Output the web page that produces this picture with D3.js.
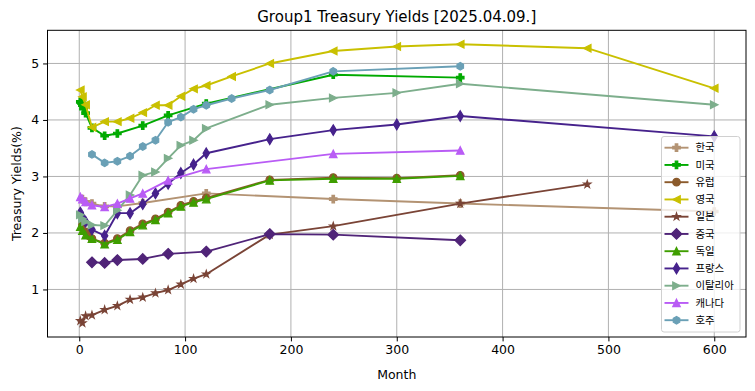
<!DOCTYPE html>
<html><head><meta charset="utf-8">
<script src="https://cdn.jsdelivr.net/npm/d3@7"></script>
<style>body{margin:0;background:#fff} svg{display:block}</style>
</head><body><svg id="c" width="755" height="391"></svg>
<script>
// ---- data ----
const seriesNames = ["한국","미국","유럽","영국","일본","중국","독일","프랑스","이탈리아","캐나다","호주"];
const koreaMonths = [3,6,12,24,36,60,120,240,360,600];
const koreaYields = [2.6,2.55,2.52,2.47,2.47,2.53,2.7,2.6,2.52,2.38];
const usMonths = [1,2,3,4,6,12,24,36,60,84,120,240,360];
const usYields = [4.32,4.3,4.26,4.2,4.12,3.86,3.72,3.76,3.9,4.08,4.29,4.8,4.75];
const euMonths = [3,6,9,12,24,36,48,60,72,84,96,108,120,180,240,300,360];
const euYields = [2.15,2.02,1.95,1.9,1.82,1.9,2.04,2.16,2.25,2.37,2.49,2.56,2.62,2.94,2.98,2.97,3.02];
const ukMonths = [1,3,6,12,24,36,48,60,72,84,96,108,120,144,180,240,300,360,480,600];
const ukYields = [4.53,4.41,4.27,3.87,3.97,3.97,4.03,4.13,4.26,4.26,4.42,4.55,4.61,4.77,5.0,5.22,5.3,5.34,5.27,4.56];
const jpMonths = [1,3,6,12,24,36,48,60,72,84,96,108,120,180,240,360,480];
const jpYields = [0.445,0.405,0.53,0.545,0.64,0.71,0.82,0.86,0.935,0.99,1.09,1.19,1.27,1.97,2.12,2.52,2.86];
const cnMonths = [12,24,36,60,84,120,180,240,360];
const cnYields = [1.48,1.47,1.52,1.54,1.63,1.67,1.98,1.97,1.87];
const deMonths = [1,3,6,12,24,36,48,60,72,84,96,108,120,180,240,300,360];
const deYields = [2.11,2.04,1.96,1.9,1.8,1.88,2.02,2.14,2.23,2.35,2.47,2.54,2.6,2.93,2.96,2.96,3.01];
const frMonths = [1,3,6,12,24,36,48,60,72,84,96,108,120,180,240,300,360,600];
const frYields = [2.36,2.28,2.2,2.06,1.95,2.35,2.35,2.51,2.7,2.87,3.06,3.21,3.41,3.66,3.82,3.92,4.07,3.71];
const itMonths = [1,3,6,12,24,36,48,60,72,84,96,108,120,180,240,300,360,600];
const itYields = [2.32,2.25,2.2,2.14,2.13,2.4,2.67,3.02,3.08,3.32,3.55,3.64,3.85,4.27,4.39,4.48,4.64,4.27];
const caMonths = [1,3,6,12,24,36,48,60,84,120,240,360];
const caYields = [2.64,2.6,2.55,2.49,2.46,2.52,2.61,2.7,2.93,3.13,3.4,3.46];
const auMonths = [12,24,36,48,60,72,84,96,108,120,144,180,240,360];
const auYields = [3.39,3.24,3.27,3.36,3.53,3.64,3.96,4.05,4.19,4.26,4.38,4.53,4.86,4.95];
const xTicks = [0,100,200,300,400,500,600];
const yTicks = [1,2,3,4,5];
const titleText = "Group1 Treasury Yields [2025.04.09.]";
const xLabel = "Month", yLabel = "Treasury Yields(%)";

// ---- styles ----
const colors = ["#b39373","#00aa00","#8b5a2b","#c9c000","#7a4436","#502478","#3f9e00","#46228c","#7dae8c","#b95cf5","#6aa0b6"];
const markers = ["P","P","o","<","*","D","^","d",">","^","h"];

const monthsList = [koreaMonths,usMonths,euMonths,ukMonths,jpMonths,cnMonths,deMonths,frMonths,itMonths,caMonths,auMonths];
const yieldsList = [koreaYields,usYields,euYields,ukYields,jpYields,cnYields,deYields,frYields,itYields,caYields,auYields];
const series = seriesNames.map((n,i)=>({name:n,color:colors[i],marker:markers[i],
  pts: monthsList[i].map((m,j)=>({m, v: yieldsList[i][j]}))}));

const svg = d3.select("#c");
const L=47.5, R=746, T=30.3, B=337;
const allM = monthsList.flat(), allV = yieldsList.flat();
const [m0,m1] = d3.extent(allM), [v0,v1] = d3.extent(allV);
const x = d3.scaleLinear().domain([m0-(m1-m0)*0.05 - 0, m1+(m1-m0)*0.05]).range([L,R]);
// x domain padded from 0..600
x.domain([0-(600-0)*0.05, 600+(600-0)*0.05]);
const y = d3.scaleLinear().domain([v0-(v1-v0)*0.05, v1+(v1-v0)*0.05]).range([B,T]);

const font = "DejaVu Sans, sans-serif";
// grid
const g = svg.append("g");
g.selectAll(".gx").data(xTicks).join("line").attr("x1",d=>x(d)).attr("x2",d=>x(d)).attr("y1",T).attr("y2",B)
  .attr("stroke","#b0b0b0").attr("stroke-width",1);
g.selectAll(".gy").data(yTicks).join("line").attr("y1",d=>y(d)).attr("y2",d=>y(d)).attr("x1",L).attr("x2",R)
  .attr("stroke","#b0b0b0").attr("stroke-width",1);

// axes
const xAxis = d3.axisBottom(x).tickValues(xTicks).tickSize(4.4).tickPadding(4);
const yAxis = d3.axisLeft(y).tickValues(yTicks).tickSize(4.4).tickPadding(4).tickFormat(d3.format("d"));
const gx = svg.append("g").attr("transform",`translate(0,${B})`).call(xAxis);
const gy = svg.append("g").attr("transform",`translate(${L},0)`).call(yAxis);
[gx,gy].forEach(a=>{a.select(".domain").remove();
  a.selectAll("text").attr("font-family",font).attr("font-size",12.5).attr("fill","#000");
  a.selectAll("line").attr("stroke","#000").attr("stroke-width",1);});

// marker paths
function markerPath(type, s){ // s = markersize px
  const h=s/2;
  switch(type){
    case "o": return d3.path().toString() || `M${h},0A${h},${h},0,1,1,${-h},0A${h},${h},0,1,1,${h},0Z`;
    case "P": { const a=s/6; return `M${-a},${-h}H${a}V${-a}H${h}V${a}H${a}V${h}H${-a}V${a}H${-h}V${-a}H${-a}Z`; }
    case "^": return `M0,${-h}L${h},${h}L${-h},${h}Z`;
    case "<": return `M${-h},0L${h},${-h}L${h},${h}Z`;
    case ">": return `M${h},0L${-h},${-h}L${-h},${h}Z`;
    case "D": { const d=s*0.7071; return `M0,${-d}L${d},0L0,${d}L${-d},0Z`; }
    case "d": { const d=s*0.7071; const w=d*0.6; return `M0,${-d}L${w},0L0,${d}L${-w},0Z`; }
    case "h": { let p=""; for(let k=0;k<6;k++){const a=Math.PI/2+k*Math.PI/3; p+=(k?"L":"M")+(h*Math.cos(a)).toFixed(2)+","+(-h*Math.sin(a)).toFixed(2);} return p+"Z"; }
    case "*": { let p=""; const ri=h*0.381966; for(let k=0;k<10;k++){const r=k%2?ri:h; const a=Math.PI/2+k*Math.PI/5; p+=(k?"L":"M")+(r*Math.cos(a)).toFixed(2)+","+(-r*Math.sin(a)).toFixed(2);} return p+"Z"; }
  }
}
function circlePath(h){return `M${h},0A${h},${h},0,1,1,${-h},0A${h},${h},0,1,1,${h},0Z`;}
function mPath(type,s){ return type==="o"?circlePath(s/2):markerPath(type,s); }

const MS = 7.5;
const plot = svg.append("g");
const line = d3.line().x(d=>x(d.m)).y(d=>y(d.v));
series.forEach(s=>{
  const gs = plot.append("g");
  gs.append("path").attr("d",line(s.pts)).attr("fill","none").attr("stroke",s.color).attr("stroke-width",1.9).attr("stroke-linejoin","round").attr("stroke-linecap","butt");
  gs.selectAll("path.mk").data(s.pts).join("path").attr("class","mk")
    .attr("d",mPath(s.marker,MS)).attr("transform",d=>`translate(${x(d.m)},${y(d.v)})`)
    .attr("fill",s.color).attr("stroke",s.color).attr("stroke-width",1.2).attr("stroke-linejoin","miter");
});

// spines
svg.append("rect").attr("x",L).attr("y",T).attr("width",R-L).attr("height",B-T).attr("fill","none").attr("stroke","#000").attr("stroke-width",1);

// title and labels
svg.append("text").attr("x",(L+R)/2).attr("y",22).attr("text-anchor","middle").attr("font-family",font).attr("font-size",15).text(titleText);
svg.append("text").attr("x",(L+R)/2).attr("y",379).attr("text-anchor","middle").attr("font-family",font).attr("font-size",12.5).text(xLabel);
svg.append("text").attr("transform",`translate(21,${(T+B)/2}) rotate(-90)`).attr("text-anchor","middle").attr("font-family",font).attr("font-size",12.5).text(yLabel);

// legend
const lg = svg.append("g").attr("transform","translate(661.5,136.5)");
lg.append("rect").attr("width",78.5).attr("height",195.5).attr("rx",2.5).attr("fill","#fff").attr("fill-opacity",0.8).attr("stroke","#d0d0d0").attr("stroke-width",1);
series.forEach((s,i)=>{
  const yy = 11.2 + i*17.25;
  const e = lg.append("g").attr("transform",`translate(0,${yy})`);
  e.append("line").attr("x1",3).attr("x2",27).attr("stroke",s.color).attr("stroke-width",1.9);
  e.append("path").attr("d",mPath(s.marker,MS)).attr("transform","translate(15,0)").attr("fill",s.color).attr("stroke",s.color).attr("stroke-width",1.2);
  e.append("text").attr("x",34).attr("y",0).attr("dy","0.36em").attr("font-family","Noto Sans CJK KR, sans-serif").attr("font-size",10.4).text(s.name);
});
</script></body></html>
